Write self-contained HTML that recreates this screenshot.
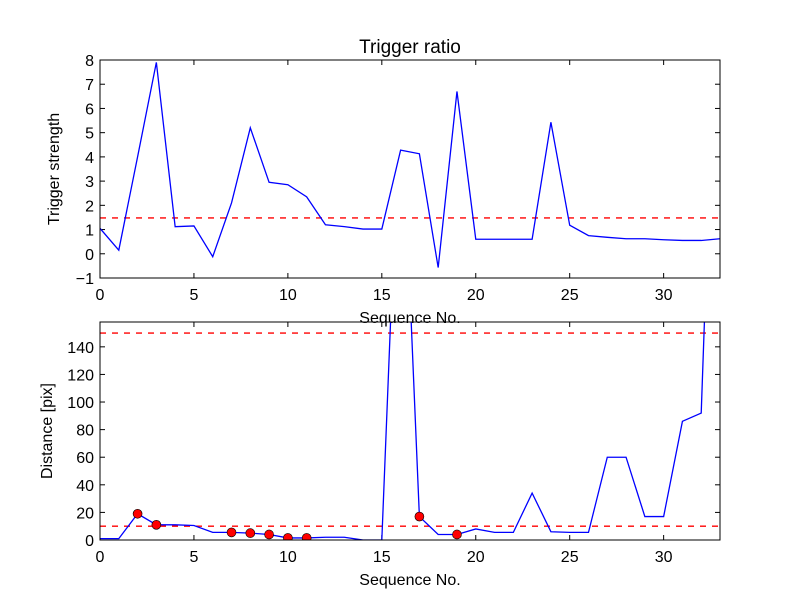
<!DOCTYPE html>
<html><head><meta charset="utf-8"><style>
html,body{margin:0;padding:0;background:#fff}
text{font-family:"Liberation Sans","DejaVu Sans",sans-serif;fill:#000}
</style></head><body>
<svg id="chart" width="800" height="600" xmlns="http://www.w3.org/2000/svg">
<rect width="800" height="600" fill="#fff"/>
</svg>
<script>
const seq = [0,1,2,3,4,5,6,7,8,9,10,11,12,13,14,15,16,17,18,19,20,21,22,23,24,25,26,27,28,29,30,31,32,33];
const ratioValues = [1.05,0.15,4,7.9,1.12,1.15,-0.12,2.1,5.2,2.95,2.85,2.35,1.2,1.12,1.02,1.02,4.28,4.13,-0.57,6.7,0.6,0.6,0.6,0.6,5.43,1.18,0.75,0.68,0.62,0.62,0.58,0.55,0.55,0.62];
const ratioThreshold = [1.48];
const distValues = [1,1,19,11,11,10.5,5.5,5.5,5,4,1.5,1.5,2,2,0,0,340,17,4,4,8,5.5,5.5,34,6,5.5,5.5,60,60,17,17,86,92,480];
const distThresholds = [10,150];
const markedIdx = [2,3,7,8,9,10,11,17,19];
const xTicks = [0,5,10,15,20,25,30];
const topYTicks = [-1,0,1,2,3,4,5,6,7,8];
const botYTicks = [0,20,40,60,80,100,120,140];

const svg = document.getElementById('chart');
const NS = 'http://www.w3.org/2000/svg';
function mk(tag, attrs, parent){const e=document.createElementNS(NS,tag);for(const k in attrs)e.setAttribute(k,attrs[k]);(parent||svg).appendChild(e);return e;}

function panel(cfg){
  const {x0,x1,y0,y1,ymin,ymax,name}=cfg;
  const g=mk('g',{});
  
  
  const clipId=name+'-clip';
  const cp=mk('clipPath',{id:clipId},g);
  mk('rect',{x:x0,y:y0,width:x1-x0,height:y1-y0},cp);
  const sx=v=>x0+(v-0)/(33-0)*(x1-x0);
  const sy=v=>y1-(v-ymin)/(ymax-ymin)*(y1-y0);
  // ticks
  xTicks.forEach(t=>{
    const X=sx(t);
    mk('line',{x1:X,y1:y1,x2:X,y2:y1-5,stroke:'#000'},g);
    mk('line',{x1:X,y1:y0,x2:X,y2:y0+5,stroke:'#000'},g);
    const tx=mk('text',{x:X,y:y1+22,'text-anchor':'middle','font-size':'16'},g);
    tx.textContent=t;
    
    
  });
  cfg.yTicks.forEach(t=>{
    const Y=sy(t);
    mk('line',{x1:x0,y1:Y,x2:x0+5,y2:Y,stroke:'#000'},g);
    mk('line',{x1:x1,y1:Y,x2:x1-5,y2:Y,stroke:'#000'},g);
    const tx=mk('text',{x:x0-6,y:Y+6,'text-anchor':'end','font-size':'16'},g);
    tx.textContent=t<0?'\u22121':t;
    
    
  });
  const inner=mk('g',{'clip-path':'url(#'+clipId+')'},g);
  cfg.thresholds.forEach(th=>{
    const l=mk('line',{x1:x0,x2:x1,y1:sy(th),y2:sy(th),stroke:'#ff0000','stroke-width':1.3,'stroke-dasharray':'6,6'},inner);
    
    
  });
  const pts=seq.map((s,i)=>sx(s).toFixed(2)+','+sy(cfg.values[i]).toFixed(2)).join(' ');
  const pl=mk('polyline',{points:pts,fill:'none',stroke:'#0000ff','stroke-width':1.3},inner);
  
  
  if(cfg.marks){
    cfg.marks.forEach(i=>{
      const c=mk('circle',{cx:sx(seq[i]),cy:sy(cfg.values[i]),r:4.5,fill:'#ff0000',stroke:'#000','stroke-width':0.6},inner);
      
      
    });
  }
  mk('rect',{x:x0,y:y0,width:x1-x0,height:y1-y0,fill:'none',stroke:'#000','stroke-width':1},g);
  const xl=mk('text',{x:(x0+x1)/2,y:y1+45,'text-anchor':'middle','font-size':'16'},g);
  xl.textContent='Sequence No.';
  
  
  const cy=(y0+y1)/2;
  const yl=mk('text',{x:cfg.ylabX,y:cy,'text-anchor':'middle','font-size':'16',transform:'rotate(-90 '+cfg.ylabX+' '+cy+')'},g);
  yl.textContent=cfg.ylabel;
  
  
}
panel({name:'ratio',x0:100,x1:720,y0:60,y1:278,ymin:-1,ymax:8,yTicks:topYTicks,values:ratioValues,thresholds:ratioThreshold,ylabel:'Trigger strength',ylabX:59});
panel({name:'distance',x0:100,x1:720,y0:322,y1:540,ymin:0,ymax:158,yTicks:botYTicks,values:distValues,thresholds:distThresholds,marks:markedIdx,ylabel:'Distance [pix]',ylabX:52});
const title=mk('text',{x:410,y:53,'text-anchor':'middle','font-size':'19'});
title.textContent='Trigger ratio';


</script>
</body></html>
